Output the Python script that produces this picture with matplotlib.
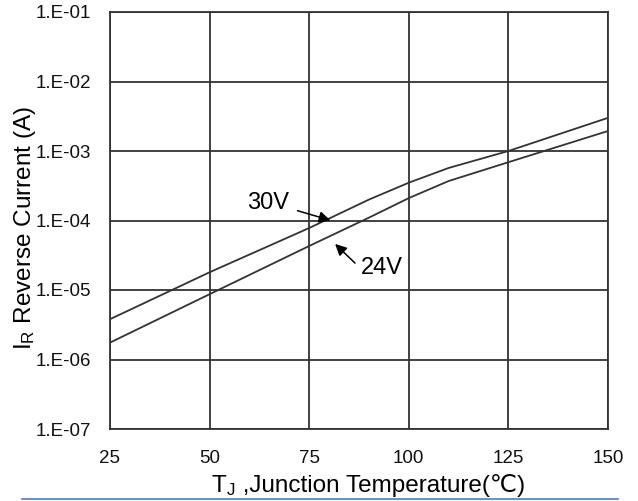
import matplotlib
matplotlib.use("Agg")
import matplotlib.pyplot as plt
from matplotlib.lines import Line2D

plt.rcParams['font.family'] = ['Liberation Sans', 'DejaVu Sans']
plt.rcParams['mathtext.fontset'] = 'custom'
plt.rcParams['mathtext.rm'] = 'Liberation Sans'

# values
temp = [25, 50, 75, 90, 100, 110, 125, 150]
ir_30v = [3.8e-6, 1.8e-5, 7.8e-5, 2.0e-4, 3.5e-4, 5.7e-4, 1.0e-3, 3.0e-3]
ir_24v = [1.75e-6, 8.7e-6, 4.3e-5, 1.1e-4, 2.1e-4, 3.7e-4, 6.9e-4, 1.94e-3]

xticks = [25, 50, 75, 100, 125, 150]
yticks = [1e-7, 1e-6, 1e-5, 1e-4, 1e-3, 1e-2, 1e-1]
ylabels = ['1.E-07', '1.E-06', '1.E-05', '1.E-04', '1.E-03', '1.E-02', '1.E-01']

line_col = '#333333'
W, H = 638, 501

fig = plt.figure(figsize=(W / 100, H / 100), dpi=100)
ax = fig.add_axes([110 / W, 1 - 429 / H, 498 / W, 417 / H])

ax.plot(temp, ir_30v, color=line_col, lw=1.3)
ax.plot(temp, ir_24v, color=line_col, lw=1.3)

ax.set_yscale('log')
ax.set_xlim(25, 150)
ax.set_ylim(1e-7, 1e-1)
ax.set_xticks(xticks)
ax.set_xticklabels([str(t) for t in xticks])
ax.set_yticks(yticks)
ax.set_yticklabels(ylabels)
ax.minorticks_off()
ax.tick_params(length=0, labelsize=13.5, colors='#111111')
ax.tick_params(axis='y', pad=13.5)
ax.tick_params(axis='x', pad=15)
ax.grid(True, color=line_col, lw=1.3)
for s in ax.spines.values():
    s.set_color(line_col)
    s.set_linewidth(1.3)

# labels on the curves
arrow = dict(arrowstyle='-|>', color='black', lw=1.1, mutation_scale=17)
ax.text(64.7, 1.79e-4, '30V', fontsize=17, ha='center', va='center')
ax.annotate('', xy=(81.0, 9.8e-5), xytext=(71.4, 1.42e-4), arrowprops=arrow)
ax.text(93.3, 2.07e-5, '24V', fontsize=17, ha='center', va='center')
ax.annotate('', xy=(81.0, 4.9e-5), xytext=(87.0, 2.29e-5), arrowprops=arrow)

fig.text(25 / W, 1 - 228 / H, r'$\mathregular{I_R}$ Reverse Current (A)',
         rotation=90, fontsize=17.5, ha='center', va='center')

# x label: subscript part in mathtext, the rest as plain text so ℃ can fall back
renderer = fig.canvas.get_renderer()
base_y = 1 - 492 / H
t1 = fig.text(0, base_y, r'$\mathregular{T_J}$', fontsize=17.5, ha='left', va='baseline')
t2 = fig.text(0, base_y, ' ,Junction Temperature(℃)', fontsize=17.5, ha='left', va='baseline')
w1 = t1.get_window_extent(renderer).width
w2 = t2.get_window_extent(renderer).width
x0 = 368 - (w1 + w2) / 2
t1.set_x(x0 / W)
t2.set_x((x0 + w1) / W)

# blue rule under the chart
fig.add_artist(Line2D([22 / W, 618 / W], [1 - 499 / H, 1 - 499 / H],
                      color='#4a7ebb', lw=1.2))

fig.savefig('out.png', dpi=100)
